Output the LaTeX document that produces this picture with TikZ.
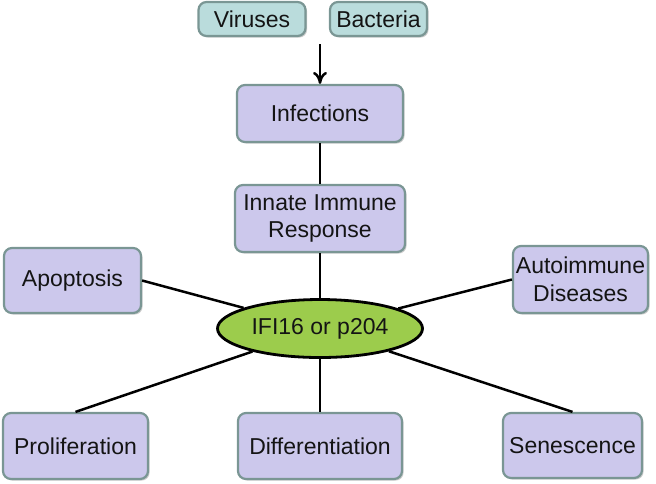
\documentclass[tikz,border=0pt]{standalone}
\usepackage{fontspec}
\setmainfont{Liberation Sans}
\usepackage{tikz}
\usetikzlibrary{shapes.geometric, shadows, arrows.meta}

\definecolor{boxFill}{RGB}{204,200,236}
\definecolor{boxLine}{RGB}{122,150,148}
\definecolor{srcFill}{RGB}{186,220,220}
\definecolor{hubFill}{RGB}{156,204,76}
\definecolor{txtCol}{RGB}{20,20,20}

\tikzset{
  card/.style={draw=boxLine, line width=1.1pt, fill=boxFill, rounded corners=4pt,
    inner sep=0pt, align=center, text=txtCol,
    font=\fontsize{11.5}{13.75}\selectfont,
    drop shadow={shadow xshift=0.8pt, shadow yshift=-0.8pt, opacity=0.4}},
  srccard/.style={card, fill=srcFill},
  hub/.style={ellipse, draw=black, line width=1.4pt, fill=hubFill, inner sep=0pt,
    text=txtCol, font=\fontsize{11.5}{13.75}\selectfont},
  link/.style={black, line width=1.25pt}
}

\begin{document}
\begin{tikzpicture}[x=0.5pt, y=-0.5pt]
\useasboundingbox (0,0) rectangle (656,483);
% sources on top
\node[srccard, minimum width=53.5pt, minimum height=17pt] (virus) at (252,19) {Viruses};
\node[srccard, minimum width=48.5pt, minimum height=17pt] (bact) at (378.5,19) {Bacteria};
\coordinate (src) at (320,44);
% central column
\node[card, minimum width=83pt, minimum height=28.5pt] (infect) at (320,113.5) {Infections};
\node[card, minimum width=85pt, minimum height=33.5pt] (innate) at (320,218.5) {Innate Immune\\Response};
\node[hub, minimum width=102.5pt, minimum height=29pt] (ifi) at (320,328.5) {IFI16 or p204};
% outcomes
\node[card, minimum width=68.5pt, minimum height=32.5pt] (apop) at (72.5,280.5) {Apoptosis};
\node[card, minimum width=67.5pt, minimum height=33.5pt] (auto) at (580.5,279.5) {Autoimmune\\Diseases};
\node[card, minimum width=72.5pt, minimum height=33pt] (prolif) at (75.5,446) {Proliferation};
\node[card, minimum width=82pt, minimum height=33pt] (diff) at (320,446) {Differentiation};
\node[card, minimum width=69.5pt, minimum height=32.5pt] (sen) at (572.5,445.5) {Senescence};
% connectors
\draw[link, -{To[length=6pt, width=7pt]}] (src) -- (infect.north);
\draw[link] (infect) -- (innate);
\draw[link] (innate) -- (ifi);
\draw[link] (apop.east) -- (ifi);
\draw[link] (auto.west) -- (ifi);
\draw[link] (prolif.north) -- (ifi);
\draw[link] (diff) -- (ifi);
\draw[link] (sen.north) -- (ifi);
\end{tikzpicture}
\end{document}
